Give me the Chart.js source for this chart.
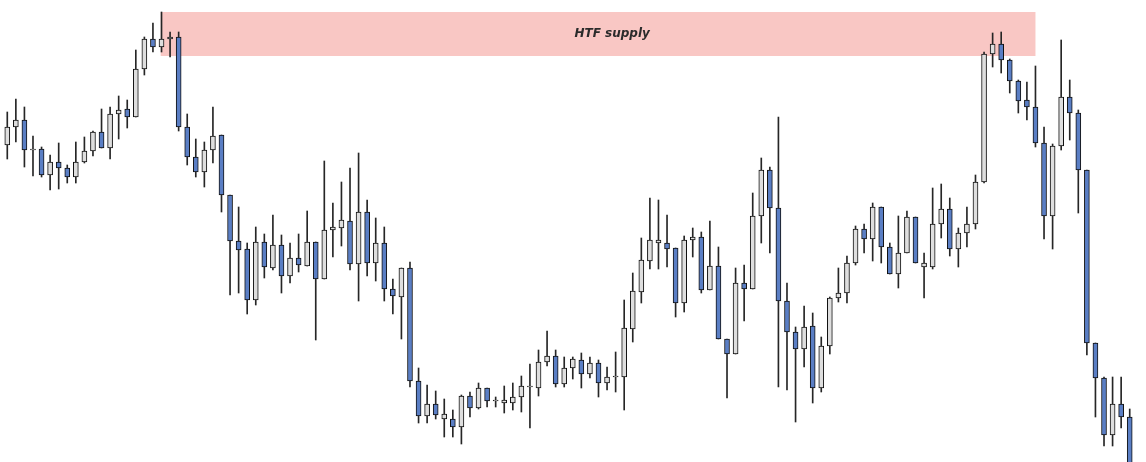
<!DOCTYPE html>
<html>
<head>
<meta charset="utf-8">
<script src="https://cdn.jsdelivr.net/npm/chart.js@4"></script>
<style>
  html, body { margin: 0; padding: 0; background: #fff; }
  #wrap { width: 1146px; height: 462px; position: relative; }
</style>
</head>
<body>
<div id="wrap"><canvas id="chart"></canvas></div>
<script>
// candles, left to right
const opens = [
  355, 373, 380, 350, 351, 325, 338, 332, 323, 338, 349, 368, 352, 386, 391, 383, 431, 461, 453, 461,
  463, 373, 343, 328, 350, 365, 305, 259, 251, 200, 258, 232, 255, 224, 242, 234, 258, 221, 270, 272,
  279, 236, 288, 237, 257, 211, 203, 232, 119, 84, 96, 81, 81, 73, 104, 92, 112, 99, 97, 97,
  103, 113, 112, 138, 144, 116, 132, 140, 126, 137, 117, 123, 123, 171, 208, 239, 257, 257, 252, 197,
  260, 263, 210, 234, 161, 146, 217, 211, 284, 330, 292, 199, 168, 151, 174, 112, 154, 202, 207, 237,
  271, 261, 293, 253, 226, 247, 283, 233, 233, 276, 291, 251, 267, 276, 318, 446, 456, 440, 419, 400,
  393, 357, 284, 354, 403, 387, 330, 157, 122, 65, 96, 83,
];
const highs = [
  388, 401, 393, 364, 353, 345, 357, 335, 358, 363, 369, 391, 393, 404, 400, 450, 463, 477, 488, 468,
  468, 386, 361, 358, 393, 365, 305, 293, 257, 273, 266, 285, 265, 257, 266, 289, 258, 339, 297, 318,
  332, 347, 300, 282, 273, 221, 232, 238, 132, 115, 109, 101, 90, 105, 108, 117, 112, 103, 114, 117,
  124, 136, 150, 169, 150, 143, 143, 147, 143, 140, 133, 148, 200, 227, 262, 302, 300, 285, 252, 264,
  272, 268, 279, 253, 161, 232, 235, 307, 342, 333, 383, 217, 173, 194, 187, 163, 203, 232, 244, 274,
  276, 297, 293, 257, 284, 289, 283, 247, 312, 316, 302, 272, 293, 325, 448, 467, 468, 441, 420, 418,
  434, 373, 356, 460, 420, 390, 330, 157, 123, 123, 123, 91,
];
const lows = [
  341, 358, 333, 324, 323, 310, 311, 317, 317, 337, 344, 352, 341, 361, 372, 383, 425, 448, 448, 443,
  369, 335, 323, 313, 337, 288, 205, 207, 186, 195, 222, 230, 207, 217, 228, 234, 160, 221, 243, 254,
  230, 199, 224, 219, 199, 186, 161, 113, 77, 77, 81, 63, 63, 56, 83, 91, 93, 93, 87, 90,
  88, 72, 104, 134, 113, 113, 121, 112, 122, 103, 110, 108, 90, 158, 197, 231, 231, 233, 183, 188,
  243, 207, 210, 161, 102, 146, 179, 211, 257, 247, 113, 110, 78, 133, 97, 108, 146, 198, 197, 235,
  247, 239, 237, 226, 212, 247, 237, 202, 231, 262, 244, 233, 253, 271, 317, 433, 427, 407, 387, 380,
  353, 261, 251, 350, 360, 287, 145, 83, 54, 54, 72, 25,
];
const closes = [
  373, 380, 350, 351, 325, 338, 332, 323, 338, 349, 368, 352, 386, 390, 383, 431, 461, 453, 461, 463,
  373, 343, 328, 350, 364, 305, 259, 250, 200, 258, 233, 255, 224, 242, 235, 258, 221, 270, 273, 280,
  236, 288, 237, 257, 211, 204, 232, 119, 84, 96, 85, 86, 73, 104, 92, 112, 99, 100, 100, 103,
  114, 114, 138, 144, 116, 132, 141, 126, 137, 117, 123, 124, 172, 209, 240, 260, 260, 251, 197, 260,
  263, 210, 234, 161, 146, 217, 211, 284, 330, 292, 199, 168, 151, 173, 112, 154, 202, 207, 237, 271,
  261, 293, 253, 226, 247, 283, 237, 237, 276, 291, 251, 267, 276, 318, 446, 456, 440, 419, 399, 393,
  357, 284, 354, 403, 387, 330, 157, 122, 65, 96, 83, 30,
];

// supply zone, in candle index and price units
const zoneFrom = 17.9;
const zoneTo = 120.0;
const zoneTop = 488;
const zoneBottom = 444;
const zoneLabel = "HTF supply";
const zoneLabelAt = 70.6;

const labels = opens.map((_, i) => String(i + 1));
const bodies = opens.map((o, i) => [o, closes[i]]);
const wicks = lows.map((l, i) => [l, highs[i]]);
const bodyColors = opens.map((o, i) => (closes[i] < o ? "#5a7ec4" : "#dedede"));

const supplyZone = {
  id: "supplyZone",
  beforeDatasetsDraw(chart) {
    const { ctx, scales } = chart;
    const x1 = scales.x.getPixelForValue(zoneFrom);
    const x2 = scales.x.getPixelForValue(zoneTo);
    const y1 = scales.y.getPixelForValue(zoneTop);
    const y2 = scales.y.getPixelForValue(zoneBottom);
    ctx.save();
    ctx.fillStyle = "#f9c7c4";
    ctx.fillRect(x1, y1, x2 - x1, y2 - y1);
    ctx.fillStyle = "#2b2b2b";
    ctx.font = "italic bold 12px 'DejaVu Sans', sans-serif";
    ctx.textAlign = "center";
    ctx.textBaseline = "middle";
    ctx.fillText(zoneLabel, scales.x.getPixelForValue(zoneLabelAt), (y1 + y2) / 2);
    ctx.restore();
  },
};

new Chart(document.getElementById("chart"), {
  type: "bar",
  data: {
    labels,
    datasets: [
      {
        label: "wick",
        data: wicks,
        backgroundColor: "#262626",
        barThickness: 1,
        grouped: false,
        order: 2,
      },
      {
        label: "body",
        data: bodies,
        backgroundColor: bodyColors,
        borderColor: "#111",
        borderWidth: 1,
        borderSkipped: false,
        barThickness: 5,
        grouped: false,
        order: 1,
      },
    ],
  },
  options: {
    responsive: true,
    maintainAspectRatio: false,
    animation: false,
    layout: { padding: { left: 3, right: 12, top: 0, bottom: 0 } },
    plugins: { legend: { display: false }, tooltip: { enabled: false } },
    scales: {
      x: { display: false, offset: true },
      y: { display: false, min: 38, max: 500 },
    },
  },
  plugins: [supplyZone],
});
</script>
</body>
</html>
